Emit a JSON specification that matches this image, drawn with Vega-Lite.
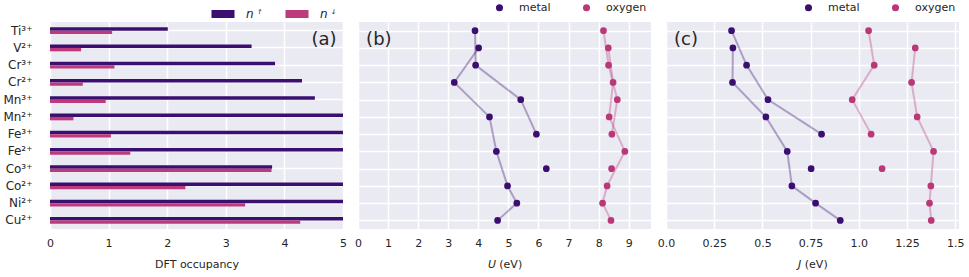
{
  "$schema": "https://vega.github.io/schema/vega-lite/v6.json",
  "background": "white",
  "padding": {"left": 2, "top": 2, "right": 5, "bottom": 5},
  "spacing": 15,
  "bounds": "flush",
  "config": {
    "font": "DejaVu Sans",
    "view": {"fill": "#eaeaf2", "stroke": null},
    "axis": {
      "gridColor": "white", "gridWidth": 1.5, "domain": false, "ticks": false,
      "labelFont": "DejaVu Sans", "labelFontSize": 11, "labelColor": "#262626",
      "labelFlush": false, "labelPadding": 8, "labelOverlap": false,
      "titleFont": "DejaVu Sans", "titleFontSize": 11, "titleFontWeight": "normal",
      "titleColor": "#262626", "titlePadding": 10
    },
    "legend": {"labelFont": "DejaVu Sans", "labelFontSize": 11, "labelColor": "#262626", "padding": 0}
  },
  "datasets": {
    "occ": [
      {"ion": "Ti³⁺", "spin": "n ꜛ", "value": 2.01}, {"ion": "Ti³⁺", "spin": "n ꜜ", "value": 1.06},
      {"ion": "V²⁺", "spin": "n ꜛ", "value": 3.44}, {"ion": "V²⁺", "spin": "n ꜜ", "value": 0.53},
      {"ion": "Cr³⁺", "spin": "n ꜛ", "value": 3.84}, {"ion": "Cr³⁺", "spin": "n ꜜ", "value": 1.10},
      {"ion": "Cr²⁺", "spin": "n ꜛ", "value": 4.30}, {"ion": "Cr²⁺", "spin": "n ꜜ", "value": 0.56},
      {"ion": "Mn³⁺", "spin": "n ꜛ", "value": 4.52}, {"ion": "Mn³⁺", "spin": "n ꜜ", "value": 0.95},
      {"ion": "Mn²⁺", "spin": "n ꜛ", "value": 5.0}, {"ion": "Mn²⁺", "spin": "n ꜜ", "value": 0.40},
      {"ion": "Fe³⁺", "spin": "n ꜛ", "value": 5.0}, {"ion": "Fe³⁺", "spin": "n ꜜ", "value": 1.04},
      {"ion": "Fe²⁺", "spin": "n ꜛ", "value": 5.0}, {"ion": "Fe²⁺", "spin": "n ꜜ", "value": 1.37},
      {"ion": "Co³⁺", "spin": "n ꜛ", "value": 3.79}, {"ion": "Co³⁺", "spin": "n ꜜ", "value": 3.78},
      {"ion": "Co²⁺", "spin": "n ꜛ", "value": 5.0}, {"ion": "Co²⁺", "spin": "n ꜜ", "value": 2.31},
      {"ion": "Ni²⁺", "spin": "n ꜛ", "value": 5.0}, {"ion": "Ni²⁺", "spin": "n ꜜ", "value": 3.33},
      {"ion": "Cu²⁺", "spin": "n ꜛ", "value": 5.0}, {"ion": "Cu²⁺", "spin": "n ꜜ", "value": 4.27}
    ],
    "params": [
      {"ion": "Ti³⁺", "row": 0, "series": "3+", "site": "metal", "U": 3.89, "J": 0.340},
      {"ion": "V²⁺", "row": 1, "series": "2+", "site": "metal", "U": 4.01, "J": 0.347},
      {"ion": "Cr³⁺", "row": 2, "series": "3+", "site": "metal", "U": 3.91, "J": 0.418},
      {"ion": "Cr²⁺", "row": 3, "series": "2+", "site": "metal", "U": 3.20, "J": 0.345},
      {"ion": "Mn³⁺", "row": 4, "series": "3+", "site": "metal", "U": 5.41, "J": 0.529},
      {"ion": "Mn²⁺", "row": 5, "series": "2+", "site": "metal", "U": 4.37, "J": 0.518},
      {"ion": "Fe³⁺", "row": 6, "series": "3+", "site": "metal", "U": 5.93, "J": 0.807},
      {"ion": "Fe²⁺", "row": 7, "series": "2+", "site": "metal", "U": 4.60, "J": 0.629},
      {"ion": "Co³⁺", "row": 8, "series": "ls", "site": "metal", "U": 6.26, "J": 0.753},
      {"ion": "Co²⁺", "row": 9, "series": "2+", "site": "metal", "U": 4.97, "J": 0.653},
      {"ion": "Ni²⁺", "row": 10, "series": "2+", "site": "metal", "U": 5.28, "J": 0.776},
      {"ion": "Cu²⁺", "row": 11, "series": "2+", "site": "metal", "U": 4.64, "J": 0.904},
      {"ion": "Ti³⁺", "row": 0, "series": "3+", "site": "oxygen", "U": 8.16, "J": 1.051},
      {"ion": "V²⁺", "row": 1, "series": "2+", "site": "oxygen", "U": 8.32, "J": 1.293},
      {"ion": "Cr³⁺", "row": 2, "series": "3+", "site": "oxygen", "U": 8.33, "J": 1.080},
      {"ion": "Cr²⁺", "row": 3, "series": "2+", "site": "oxygen", "U": 8.48, "J": 1.274},
      {"ion": "Mn³⁺", "row": 4, "series": "3+", "site": "oxygen", "U": 8.62, "J": 0.966},
      {"ion": "Mn²⁺", "row": 5, "series": "2+", "site": "oxygen", "U": 8.35, "J": 1.303},
      {"ion": "Fe³⁺", "row": 6, "series": "3+", "site": "oxygen", "U": 8.44, "J": 1.064},
      {"ion": "Fe²⁺", "row": 7, "series": "2+", "site": "oxygen", "U": 8.87, "J": 1.388},
      {"ion": "Co³⁺", "row": 8, "series": "ls", "site": "oxygen", "U": 8.43, "J": 1.121},
      {"ion": "Co²⁺", "row": 9, "series": "2+", "site": "oxygen", "U": 8.28, "J": 1.374},
      {"ion": "Ni²⁺", "row": 10, "series": "2+", "site": "oxygen", "U": 8.13, "J": 1.367},
      {"ion": "Cu²⁺", "row": 11, "series": "2+", "site": "oxygen", "U": 8.41, "J": 1.376}
    ]
  },
  "resolve": {
    "scale": {"x": "independent", "y": "independent", "color": "independent"},
    "legend": {"color": "independent"}
  },
  "hconcat": [
    {
      "width": 293, "height": 207,
      "layer": [
        {
          "data": {"name": "occ"},
          "mark": {"type": "bar"},
          "encoding": {
            "y": {"field": "ion", "type": "nominal", "sort": null,
                  "scale": {"paddingInner": 0.6, "paddingOuter": 0.3},
                  "axis": {"title": null, "labelPadding": 18, "labelFontSize": 12, "grid": true}},
            "yOffset": {"field": "spin", "type": "nominal", "sort": ["n ꜛ", "n ꜜ"]},
            "x": {"field": "value", "type": "quantitative",
                  "scale": {"domain": [0, 5], "nice": false},
                  "axis": {"title": "DFT occupancy", "values": [0, 1, 2, 3, 4, 5], "format": "d"}},
            "color": {"field": "spin", "type": "nominal",
                      "scale": {"domain": ["n ꜛ", "n ꜜ"], "range": ["#3b0f70", "#bd3a7c"]},
                      "legend": {"orient": "none", "legendX": 161, "legendY": -20, "direction": "horizontal",
                                 "title": null, "symbolType": "M-1,-0.35H1V0.35H-1Z", "symbolSize": 530,
                                 "symbolStrokeWidth": 0, "labelFontStyle": "italic", "labelFontSize": 12,
                                 "labelOffset": 11, "columnPadding": 23}}
          }
        },
        {
          "data": {"values": [{"label": "(a)"}]},
          "mark": {"type": "text", "align": "right", "baseline": "middle", "fontSize": 18, "color": "#262626", "dy": 9},
          "encoding": {"x": {"datum": 4.89}, "y": {"datum": "Ti³⁺"}, "text": {"field": "label"}}
        }
      ]
    },
    {
      "width": 293, "height": 207,
      "data": {"name": "params"},
      "layer": [
        {
          "transform": [{"filter": "datum.site == 'metal'"}],
          "mark": {"type": "line", "strokeWidth": 2, "opacity": 0.35, "color": "#3b0f70"},
          "encoding": {
            "x": {"field": "U", "type": "quantitative", "scale": {"domain": [0, 9.74], "nice": false},
                  "axis": {"title": "𝘜 (eV)", "values": [0, 1, 2, 3, 4, 5, 6, 7, 8, 9], "labelOverlap": false, "tickCount": 10, "format": "d"}},
            "y": {"field": "ion", "type": "nominal", "sort": null, "scale": {"type": "point", "padding": 0.5},
                  "axis": {"title": null, "labels": false, "grid": true}},
            "detail": {"field": "series"},
            "order": {"field": "row", "type": "quantitative"}
          }
        },
        {
          "transform": [{"filter": "datum.site == 'oxygen'"}],
          "mark": {"type": "line", "strokeWidth": 2, "opacity": 0.35, "color": "#bb3878"},
          "encoding": {
            "x": {"field": "U", "type": "quantitative",
                  "axis": {"title": "𝘜 (eV)", "values": [0, 1, 2, 3, 4, 5, 6, 7, 8, 9], "labelOverlap": false, "tickCount": 10, "format": "d"}},
            "y": {"field": "ion", "type": "nominal", "sort": null},
            "detail": {"field": "series"},
            "order": {"field": "row", "type": "quantitative"}
          }
        },
        {
          "mark": {"type": "circle", "size": 45, "opacity": 1},
          "encoding": {
            "x": {"field": "U", "type": "quantitative",
                  "axis": {"title": "𝘜 (eV)", "values": [0, 1, 2, 3, 4, 5, 6, 7, 8, 9], "labelOverlap": false, "tickCount": 10, "format": "d"}},
            "y": {"field": "ion", "type": "nominal", "sort": null},
            "color": {"field": "site", "type": "nominal", "scale": {"domain": ["metal", "oxygen"], "range": ["#3b0f70", "#bb3878"]},
                      "legend": {"orient": "none", "legendX": 136, "legendY": -20, "direction": "horizontal", "title": null,
                                 "symbolType": "circle", "symbolSize": 50, "labelOffset": 14, "columnPadding": 30}}
          }
        },
        {
          "data": {"values": [{"label": "(b)"}]},
          "mark": {"type": "text", "align": "left", "baseline": "middle", "fontSize": 18, "color": "#262626", "dy": 9},
          "encoding": {"x": {"datum": 0.27}, "y": {"datum": "Ti³⁺"}, "text": {"field": "label"}}
        }
      ]
    },
    {
      "width": 293, "height": 207,
      "data": {"name": "params"},
      "layer": [
        {
          "transform": [{"filter": "datum.site == 'metal'"}],
          "mark": {"type": "line", "strokeWidth": 2, "opacity": 0.35, "color": "#3b0f70"},
          "encoding": {
            "x": {"field": "J", "type": "quantitative", "scale": {"domain": [0, 1.52], "nice": false},
                  "axis": {"title": "𝘑 (eV)", "values": [0, 0.25, 0.5, 0.75, 1, 1.25, 1.5],
                           "labelExpr": "datum.value % 0.5 == 0 ? format(datum.value, '.1f') : format(datum.value, '.2f')"}},
            "y": {"field": "ion", "type": "nominal", "sort": null, "scale": {"type": "point", "padding": 0.5},
                  "axis": {"title": null, "labels": false, "grid": true}},
            "detail": {"field": "series"},
            "order": {"field": "row", "type": "quantitative"}
          }
        },
        {
          "transform": [{"filter": "datum.site == 'oxygen'"}],
          "mark": {"type": "line", "strokeWidth": 2, "opacity": 0.35, "color": "#bb3878"},
          "encoding": {
            "x": {"field": "J", "type": "quantitative"},
            "y": {"field": "ion", "type": "nominal", "sort": null},
            "detail": {"field": "series"},
            "order": {"field": "row", "type": "quantitative"}
          }
        },
        {
          "mark": {"type": "circle", "size": 45, "opacity": 1},
          "encoding": {
            "x": {"field": "J", "type": "quantitative"},
            "y": {"field": "ion", "type": "nominal", "sort": null},
            "color": {"field": "site", "type": "nominal", "scale": {"domain": ["metal", "oxygen"], "range": ["#3b0f70", "#bb3878"]},
                      "legend": {"orient": "none", "legendX": 137, "legendY": -20, "direction": "horizontal", "title": null,
                                 "symbolType": "circle", "symbolSize": 50, "labelOffset": 14, "columnPadding": 30}}
          }
        },
        {
          "data": {"values": [{"label": "(c)"}]},
          "mark": {"type": "text", "align": "left", "baseline": "middle", "fontSize": 18, "color": "#262626", "dy": 9},
          "encoding": {"x": {"datum": 0.042}, "y": {"datum": "Ti³⁺"}, "text": {"field": "label"}}
        }
      ]
    }
  ]
}
